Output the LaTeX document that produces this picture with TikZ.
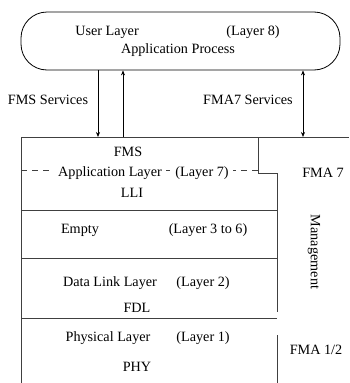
\documentclass[tikz,border=0pt]{standalone}
\usepackage{fontspec}
\setmainfont{Liberation Serif}
\usetikzlibrary{arrows.meta, positioning}

\begin{document}
\begin{tikzpicture}[x=1pt, y=-1pt, >={Stealth[length=5pt, width=4pt]},
  font=\fontsize{14.2}{16}\selectfont,
  lbl/.style={inner sep=1pt},
  wlbl/.style={inner ysep=1pt, inner xsep=4pt, fill=white},
  rule/.style={line width=0.8pt, black!75},
  link/.style={line width=0.7pt}]
  \useasboundingbox (0,0) rectangle (349,383);

  % user layer on top
  \node[draw, line width=0.8pt, rounded corners=26pt, minimum width=319pt,
    minimum height=58pt] (user) at (180.5,41) {};
  \node[lbl] (ul) at (107,32) {User Layer};
  \node[lbl] (l8) at (253,32) {(Layer 8)};
  \node[lbl] (ap) at (178,50) {Application Process};

  % stack outline
  \coordinate (tl) at (21,137);
  \coordinate (tr) at (349,137);
  \coordinate (st) at (258,173);
  \coordinate (re) at (277,173);
  \draw[rule] (tl) -- (tr);
  \draw[rule] (tl) -- (21,383);
  \draw[rule] (st |- tl) -- (st) -- (re) -- (277,312);
  \draw[rule] (277,335) -- (277,383);
  \draw[rule] (21,210) -- (277,210);
  \draw[rule] (21,258) -- (277,258);
  \draw[rule] (21,318) -- (277,318);
  \draw[rule, dash pattern=on 6pt off 5pt] (21,170) -- (st |- 0,170);

  % services
  \coordinate (fmsin) at (98,137);
  \coordinate (fmsout) at (123,137);
  \coordinate (fmain) at (303,137);
  \draw[link, ->] (fmsin |- user.south) -- (fmsin);
  \draw[link, ->] (fmsout) -- (fmsout |- user.south);
  \draw[link, <->] (fmain |- user.south) -- (fmain);
  \node[lbl] (fmss) at (48,100) {FMS Services};
  \node[lbl] (fmas) at (248,100) {FMA7 Services};

  % layer 7
  \node[lbl] (fms) at (128,152) {FMS};
  \node[wlbl] (al) at (110,173) {Application Layer};
  \node[wlbl] (l7) at (202,173) {(Layer 7)};
  \node[lbl] (lli) at (132,193) {LLI};
  \node[lbl] (fma7) at (323,173) {FMA 7};

  % layers 3 to 6
  \node[lbl] (emp) at (80,230) {Empty};
  \node[lbl] (l36) at (208,230) {(Layer 3 to 6)};
  \node[lbl, rotate=-90] (mgmt) at (314,252) {Management};

  % layer 2
  \node[lbl] (dll) at (110,283) {Data Link Layer};
  \node[lbl] (l2) at (203,283) {(Layer 2)};
  \node[lbl] (fdl) at (137,308) {FDL};

  % layer 1
  \node[lbl] (phl) at (108,338) {Physical Layer};
  \node[lbl] (l1) at (203,338) {(Layer 1)};
  \node[lbl] (phy) at (137,367) {PHY};
  \node[lbl] (fma12) at (316,350) {FMA 1/2};
\end{tikzpicture}
\end{document}
